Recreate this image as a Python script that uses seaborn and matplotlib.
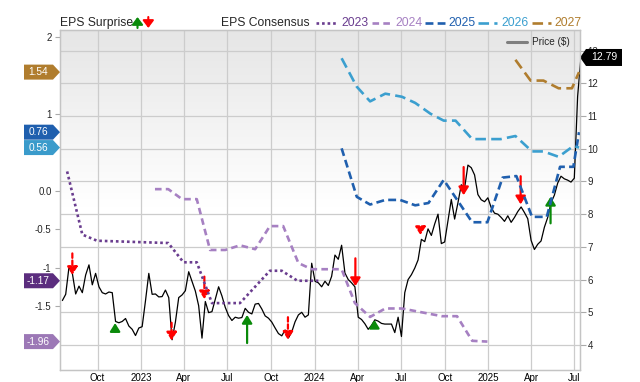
import numpy as np
import pandas as pd
import matplotlib
matplotlib.use("Agg")
import matplotlib.pyplot as plt
import matplotlib.dates as mdates
import seaborn as sns
from matplotlib.patches import Polygon
from matplotlib.lines import Line2D
from matplotlib.transforms import blended_transform_factory

# weekly closing price, starting 2022-07-19
price_start = "2022-07-19"
price = [
    5.36, 5.55, 6.39, 6.19, 5.56, 5.80, 5.60, 6.14, 6.45, 5.84,
    6.19, 5.78, 5.60, 5.56, 5.62, 5.60, 4.72, 4.68, 4.72, 4.81,
    4.58, 4.48, 4.29, 4.52, 4.56, 5.35, 6.19, 5.55, 5.56, 5.47,
    5.48, 5.68, 5.45, 4.16, 4.70, 5.45, 5.53, 5.66, 6.24, 5.95,
    5.65, 5.20, 4.21, 5.33, 4.99, 5.02, 5.40, 5.78, 5.50, 5.15,
    4.90, 4.75, 4.85, 4.82, 4.84, 5.12, 5.00, 4.95, 5.25, 5.27,
    5.10, 4.89, 4.82, 4.70, 4.52, 4.35, 4.28, 4.46, 4.22, 4.40,
    4.71, 4.92, 5.00, 4.85, 4.92, 6.50, 5.95, 5.90, 5.78, 5.95,
    5.82, 6.10, 6.75, 6.62, 7.05, 6.20, 6.00, 5.90, 5.78, 4.85,
    4.78, 4.65, 4.48, 4.60, 4.77, 4.73, 4.66, 4.64, 4.64, 4.64,
    4.38, 4.85, 4.26, 5.60, 6.00, 6.15, 6.35, 6.60, 7.23, 7.16,
    7.55, 7.35, 7.70, 8.00, 7.10, 7.15, 7.80, 8.45, 7.85, 8.35,
    8.90, 8.80, 9.50, 9.42, 9.20, 8.60, 8.44, 8.38, 8.50, 8.20,
    8.03, 8.00, 7.90, 7.78, 7.95, 7.75, 7.90, 8.08, 8.22, 8.05,
    7.86, 7.20, 6.92, 7.08, 7.18, 7.60, 7.90, 8.35, 8.58, 8.95,
    9.16, 9.08, 9.04, 8.98, 9.10, 11.60, 12.79,
]

# EPS consensus by fiscal year
eps_2023_dates = ["2022-07-29", "2022-08-30", "2022-09-30", "2023-02-27", "2023-03-31", "2023-04-28",
                  "2023-05-30", "2023-07-28", "2023-09-29", "2023-10-24", "2023-11-26", "2024-01-09"]
eps_2023 = [0.25, -0.57, -0.65, -0.68, -0.93, -0.93, -1.46, -1.46, -1.04, -1.04, -1.17, -1.17]

eps_2024_dates = ["2023-01-30", "2023-02-27", "2023-03-28", "2023-04-28", "2023-05-26", "2023-06-27",
                  "2023-07-28", "2023-08-29", "2023-09-29", "2023-10-27", "2023-11-28", "2023-12-26",
                  "2024-02-27", "2024-03-26", "2024-04-27", "2024-05-29", "2024-07-03", "2024-09-25",
                  "2024-10-27", "2024-11-28", "2024-12-30"]
eps_2024 = [0.02, 0.02, -0.11, -0.11, -0.77, -0.77, -0.71, -0.76, -0.46, -0.46, -0.94, -1.02,
            -1.02, -1.46, -1.64, -1.53, -1.53, -1.63, -1.63, -1.95, -1.96]

eps_2025_dates = ["2024-02-27", "2024-03-30", "2024-04-27", "2024-05-29", "2024-06-29", "2024-07-31",
                  "2024-08-28", "2024-09-29", "2024-11-28", "2024-12-30", "2025-01-31", "2025-03-01",
                  "2025-04-03", "2025-05-04", "2025-06-01", "2025-06-29", "2025-07-11"]
eps_2025 = [0.55, -0.08, -0.18, -0.12, -0.12, -0.19, -0.16, 0.14, -0.41, -0.41, 0.17, 0.19,
            -0.34, -0.34, 0.31, 0.31, 0.76]

eps_2026_dates = ["2024-02-27", "2024-03-30", "2024-04-27", "2024-05-29", "2024-07-03", "2024-07-31",
                  "2024-09-01", "2024-09-29", "2024-10-24", "2024-11-28", "2025-01-27", "2025-02-27",
                  "2025-04-03", "2025-04-27", "2025-05-29", "2025-06-29", "2025-07-11"]
eps_2026 = [1.72, 1.35, 1.16, 1.26, 1.22, 1.14, 1.00, 0.91, 0.91, 0.67, 0.67, 0.71,
            0.51, 0.51, 0.44, 0.58, 0.56]

eps_2027_dates = ["2025-02-27", "2025-03-31", "2025-04-27", "2025-05-29", "2025-06-26", "2025-07-11"]
eps_2027 = [1.70, 1.43, 1.43, 1.33, 1.33, 1.54]

# EPS surprises: date, price at arrow tip, signed magnitude (price units)
surprise_dates = ["2022-08-09", "2022-11-07", "2023-03-06", "2023-05-14", "2023-08-12", "2023-11-06",
                  "2024-03-27", "2024-05-06", "2024-08-11", "2024-11-10", "2025-03-10", "2025-05-12"]
surprise_price = [6.14, 4.67, 4.14, 5.40, 4.92, 4.16, 5.80, 4.77, 7.36, 8.58, 8.30, 8.53]
surprise_mag = [-0.66, 0.26, -0.54, -0.69, 0.86, -0.69, -0.85, 0.25, -0.23, -0.86, -0.86, 0.81]
surprise_dashed = [True, False, True, True, False, True, False, False, True, False, False, False]

tick_dates = pd.to_datetime(["2022-10-01", "2023-01-01", "2023-04-01", "2023-07-01", "2023-10-01",
                             "2024-01-01", "2024-04-01", "2024-07-01", "2024-10-01", "2025-01-01",
                             "2025-04-01", "2025-07-01"])

series = [
    ("2023", eps_2023_dates, eps_2023, "#6a3d8f", (0, (1, 1.1))),
    ("2024", eps_2024_dates, eps_2024, "#a680c2", (0, (2.5, 1.6))),
    ("2025", eps_2025_dates, eps_2025, "#1f5fae", (0, (3, 1.6))),
    ("2026", eps_2026_dates, eps_2026, "#3b9fcf", (0, (4, 2))),
    ("2027", eps_2027_dates, eps_2027, "#b07d2e", (0, (4, 2))),
]
badge_colors = {"2023": "#5b2d7e", "2024": "#9c78b6", "2025": "#1f5fae", "2026": "#3a9bcb", "2027": "#b07d2e"}

sns.set_style("white")
plt.rcParams["font.family"] = ["Liberation Sans", "DejaVu Sans"]

W, H = 640, 382
fig = plt.figure(figsize=(W / 100, H / 100), dpi=100)
ax = fig.add_axes([60 / W, 12 / H, 520 / W, 340 / H])
ax_price = ax.twinx()
ax.set_zorder(2)
ax.patch.set_visible(False)
ax_price.set_zorder(1)

# background gradient
yy = np.linspace(0, 1, 256)
shade = 0.9 + 0.1 * np.clip((1 - yy) / 0.52, 0, 1)
grad = np.dstack([shade, shade, shade]).reshape(256, 1, 3)
ax_price.imshow(grad, extent=[0, 1, 0, 1], transform=ax_price.transAxes, origin="lower",
                aspect="auto", zorder=-10)

# price
price_df = pd.DataFrame({"date": pd.date_range(price_start, periods=len(price), freq="7D"),
                         "price": price})
sns.lineplot(data=price_df, x="date", y="price", ax=ax_price, color="black", lw=0.9)

# surprise arrows
for d, tip, mag, dashed in zip(surprise_dates, surprise_price, surprise_mag, surprise_dashed):
    xd = mdates.date2num(pd.Timestamp(d))
    col = "#0a8a0a" if mag > 0 else "#ff0000"
    ax_price.annotate("", xy=(xd, tip), xytext=(xd, tip - mag),
                      arrowprops=dict(arrowstyle="-|>,head_length=0.4,head_width=0.25", color=col,
                                      lw=1.6, linestyle=(0, (2, 1.2)) if dashed else "-",
                                      mutation_scale=12, shrinkA=0, shrinkB=0),
                      zorder=5)

# consensus lines
for name, dates, vals, col, ls in series:
    sns.lineplot(x=pd.to_datetime(dates), y=vals, ax=ax, color=col, lw=1.9, linestyle=ls)

# axes setup
ax.set_xlim(pd.Timestamp("2022-07-14"), pd.Timestamp("2025-07-13"))
ax.set_ylim(-2.329, 2.087)
ax_price.set_ylim(3.236, 13.63)
for a in (ax, ax_price):
    a.set_xlabel("")
    a.set_ylabel("")

ax.set_xticks(tick_dates)
ax.set_xticklabels([str(t.year) if t.month == 1 else t.strftime("%b") for t in tick_dates])
ax.set_yticks([2, 1, 0, -0.5, -1, -1.5])
ax.set_yticklabels(["2", "1", "0.0", "-0.5", "-1", "-1.5"])
ax_price.set_yticks(range(4, 14))

ax.tick_params(axis="x", length=0, pad=2, labelsize=7, colors="black")
ax.tick_params(axis="y", length=3.6, pad=2.5, labelsize=7, color="#aaaaaa")
ax_price.tick_params(axis="y", length=4.5, pad=1, labelsize=7, color="#aaaaaa")

ax_price.xaxis.set_visible(True)
ax_price.tick_params(axis="x", length=0, labelbottom=False)
ax_price.grid(True, axis="both", color="#cccccc", lw=0.9)
ax.grid(False)
for a in (ax, ax_price):
    for s in a.spines.values():
        s.set_color("#c4c4c4")
        s.set_linewidth(0.9)

# value badges
tl = blended_transform_factory(ax.transAxes, ax.transData)
for name, dates, vals, col, ls in series:
    y = vals[-1]
    h = 7.5 / 77
    xl, xb, xt = -36 / 520, -7 / 520, 0
    ax.add_patch(Polygon([(xl, y - h), (xb, y - h), (xt, y), (xb, y + h), (xl, y + h)], closed=True,
                         transform=tl, clip_on=False, fc=badge_colors[name], ec="none", zorder=10))
    ax.text((xl + xb) / 2, y, f"{y:.2f}", transform=tl, color="white", fontsize=7.3,
            ha="center", va="center", zorder=11, clip_on=False)

tr = blended_transform_factory(ax_price.transAxes, ax_price.transData)
y = price[-1]
h = 8.5 / 32.71
xt, xb, xr = 1, 1 + 6 / 520, 1 + 42 / 520
ax_price.add_patch(Polygon([(xt, y), (xb, y - h), (xr, y - h), (xr, y + h), (xb, y + h)], closed=True,
                           transform=tr, clip_on=False, fc="black", ec="none", zorder=10))
ax_price.text((xb + xr) / 2, y, f"{y:.2f}", transform=tr, color="white", fontsize=7.5,
              ha="center", va="center", zorder=11, clip_on=False)

# header legend
yh = 1 - 22.7 / H
fig.text(60 / W, yh, "EPS Surprise", fontsize=8.7, va="center", ha="left")
for x, col, up in [(137.5, "#0a8a0a", True), (148.3, "#ff0000", False)]:
    y0, y1 = (1 - 28 / H, 1 - 17 / H) if up else (1 - 17 / H, 1 - 28 / H)
    ax.annotate("", xy=(x / W, y1), xytext=(x / W, y0), xycoords="figure fraction",
                textcoords="figure fraction", annotation_clip=False,
                arrowprops=dict(arrowstyle="-|>,head_length=0.4,head_width=0.3", color=col, lw=1.5,
                                mutation_scale=11, shrinkA=0, shrinkB=0))
fig.text(221 / W, yh, "EPS Consensus", fontsize=8.7, va="center", ha="left")
legend_pos = [(316, 337, 341.7), (371.7, 391.7, 395), (425, 445, 448.3), (478.3, 496.7, 501), (531.7, 550.7, 554)]
for (name, dates, vals, col, ls), (x0, x1, xtx) in zip(series, legend_pos):
    fig.add_artist(Line2D([x0 / W, x1 / W], [yh, yh], transform=fig.transFigure, color=col, lw=1.9, ls=ls))
    fig.text(xtx / W, yh, name, color=col, fontsize=8.7, va="center", ha="left")

# price legend
yp = 1 - 41.7 / H
fig.add_artist(Line2D([506.7 / W, 526.7 / W], [yp, yp], transform=fig.transFigure, color="#7f7f7f", lw=2.2))
fig.text(532 / W, yp, "Price ($)", fontsize=7.2, va="center", ha="left")

fig.savefig("out.png", dpi=100)
